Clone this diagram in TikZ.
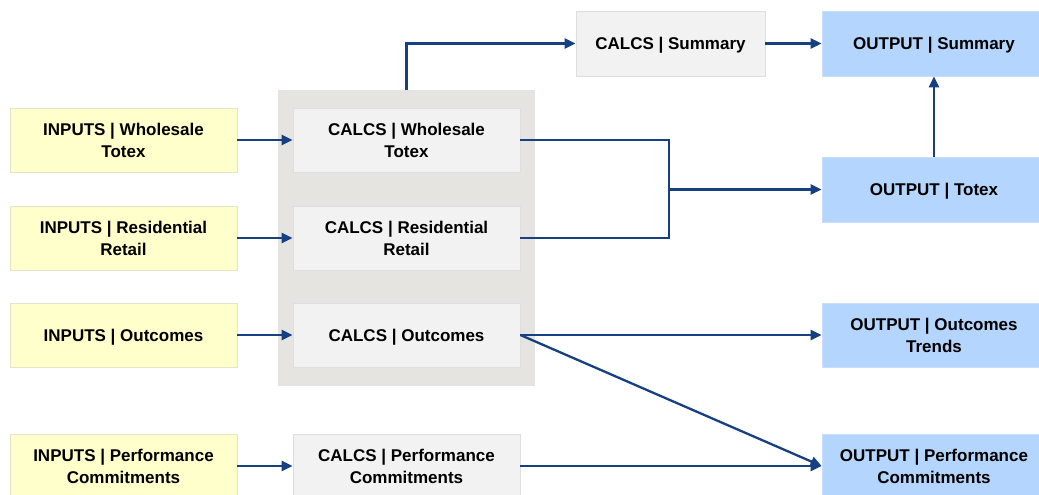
\documentclass[tikz,border=0pt]{standalone}
\usepackage{fontspec}
\setmainfont{Liberation Sans}
\usetikzlibrary{arrows.meta,positioning}
\definecolor{lineblue}{RGB}{22,64,130}
\definecolor{inyellow}{RGB}{255,255,204}
\definecolor{inborder}{RGB}{228,228,200}
\definecolor{calcfill}{RGB}{242,242,242}
\definecolor{calcborder}{RGB}{222,222,222}
\definecolor{grpfill}{RGB}{230,228,224}
\definecolor{outblue}{RGB}{180,213,254}
\definecolor{outborder}{RGB}{200,222,250}
\tikzset{
  box/.style={minimum height=64pt, align=center, inner sep=0pt, text depth=0pt,
    font=\fontsize{17}{22}\selectfont\bfseries, line width=0.8pt},
  inbox/.style={box, fill=inyellow, draw=inborder, minimum width=227pt},
  calcbox/.style={box, fill=calcfill, draw=calcborder, minimum width=227pt},
  outbox/.style={box, fill=outblue, draw=outborder, minimum width=224pt},
  arr/.style={draw=lineblue, line width=2.3pt, -{Triangle[length=11pt,width=10pt]}},
  ln/.style={draw=lineblue, line width=2.3pt},
}
\begin{document}
\begin{tikzpicture}[x=1pt,y=-1pt]
\useasboundingbox (0,0) rectangle (1039,495);
\clip (0,0) rectangle (1039,495);
\fill[white] (0,0) rectangle (1039,495);
% group
\node[fill=grpfill, minimum width=257pt, minimum height=296pt, inner sep=0pt] (grp) at (406.5,238) {};
% inputs
\node[inbox] (inW) at (123.5,140) {INPUTS | Wholesale\\Totex};
\node[inbox] (inR) at (123.5,238) {INPUTS | Residential\\Retail};
\node[inbox] (inO) at (123.5,335) {INPUTS | Outcomes};
\node[inbox] (inP) at (123.5,466) {INPUTS | Performance\\Commitments};
% calcs
\node[calcbox] (cW) at (406.5,140) {CALCS | Wholesale\\Totex};
\node[calcbox] (cR) at (406.5,238) {CALCS | Residential\\Retail};
\node[calcbox] (cO) at (406.5,335) {CALCS | Outcomes};
\node[calcbox] (cP) at (406.5,466) {CALCS | Performance\\Commitments};
\node[calcbox, minimum width=189pt, minimum height=65pt] (cS) at (670.5,43.5) {CALCS | Summary};
% outputs
\node[outbox, minimum height=65pt] (oS) at (934,43.5) {OUTPUT | Summary};
\node[outbox, minimum height=65pt] (oT) at (934,189.5) {OUTPUT | Totex};
\node[outbox] (oO) at (934,335) {OUTPUT | Outcomes\\Trends};
\node[outbox] (oP) at (934,466) {OUTPUT | Performance\\Commitments};
% junction coordinates
\coordinate (j1) at (669,140);
\coordinate (j2) at (669,238);
\coordinate (j3) at (669,189.5);
% connectors
\draw[arr] (inW) -- (cW);
\draw[arr] (inR) -- (cR);
\draw[arr] (inO) -- (cO);
\draw[arr] (inP) -- (cP);
\draw[arr] (grp.north) |- (cS.west);
\draw[arr] (cS) -- (oS);
\draw[arr] (oT) -- (oS);
\draw[ln] (cW.east) -- (j1) -- (j2) -- (cR.east);
\draw[arr] (j3) -- (oT.west);
\draw[arr] (cO.east) -- (oO.west);
\draw[arr] (cO.east) -- (oP.west);
\draw[arr] (cP.east) -- (oP.west);
\end{tikzpicture}
\end{document}
